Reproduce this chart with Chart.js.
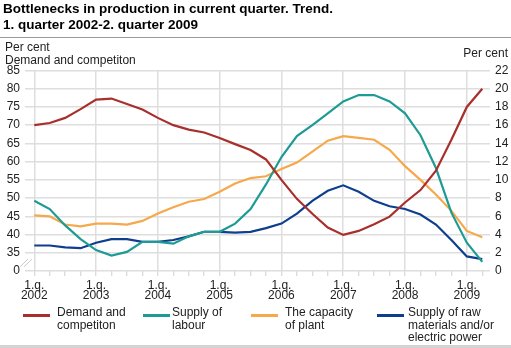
<!DOCTYPE html>
<html><head><meta charset="utf-8">
<script src="https://cdn.jsdelivr.net/npm/chart.js@4.4.1/dist/chart.umd.min.js"></script>
<style>
html,body{margin:0;padding:0;background:#fff;}
body{width:511px;height:348px;position:relative;overflow:hidden;font-family:"Liberation Sans",Arial,sans-serif;color:#222;}
canvas{position:absolute;left:0;top:0;}
.t{position:absolute;white-space:nowrap;}
#title{left:3px;top:1px;font-weight:bold;font-size:13.5px;line-height:15.5px;color:#000;}
#rule{position:absolute;left:0;top:37px;width:511px;height:1px;background:#9a9a9a;}
#band{position:absolute;left:0;top:345px;width:511px;height:3px;background:#d4d4d4;}
.unit{font-size:12px;line-height:13px;color:#222;}
.leg{position:absolute;font-size:12px;line-height:12.5px;top:306px;color:#222;white-space:nowrap;}
.sw{position:absolute;height:3px;top:313.5px;width:27px;}
</style></head>
<body>
<canvas id="c" width="511" height="348"></canvas>
<div id="title" class="t">Bottlenecks in production in current quarter. Trend.<br>1. quarter 2002-2. quarter 2009</div>
<div id="rule"></div>
<div class="t unit" style="left:5px;top:41px;">Per cent<br>Demand and competiton</div>
<div class="t unit" style="right:3px;top:47px;">Per cent</div>
<div id="legend"></div>
<div id="band"></div>
<script>
const quarters = [
 '1.q. 2002','2.q. 2002','3.q. 2002','4.q. 2002',
 '1.q. 2003','2.q. 2003','3.q. 2003','4.q. 2003',
 '1.q. 2004','2.q. 2004','3.q. 2004','4.q. 2004',
 '1.q. 2005','2.q. 2005','3.q. 2005','4.q. 2005',
 '1.q. 2006','2.q. 2006','3.q. 2006','4.q. 2006',
 '1.q. 2007','2.q. 2007','3.q. 2007','4.q. 2007',
 '1.q. 2008','2.q. 2008','3.q. 2008','4.q. 2008',
 '1.q. 2009','2.q. 2009'];
const seriesNames = [['Demand and','competiton'],['Supply of','labour'],['The capacity','of plant'],['Supply of raw','materials and/or','electric power']];
// left axis (per cent)
const demand = [70.0,70.6,72.0,74.4, 77.0,77.3,75.8,74.3, 72.0,70.0,68.8,68.0, 66.5,64.8,63.2,60.6, 55.0,49.8,45.7,41.9, 39.9,41.0,42.8,44.9, 48.8,52.2,57.5,66.0, 75.0,80.0];
// right axis (per cent)
const labour = [7.7,6.8,5.0,3.5, 2.3,1.7,2.1,3.2, 3.2,3.0,3.8,4.3, 4.3,5.2,6.8,9.5, 12.5,14.8,16.0,17.3, 18.6,19.3,19.3,18.6, 17.3,14.9,11.3,6.4, 3.1,1.0];
const plant = [6.1,6.0,5.1,4.9, 5.2,5.2,5.1,5.5, 6.3,7.0,7.6,7.9, 8.7,9.6,10.2,10.4, 11.2,11.9,13.1,14.3, 14.8,14.6,14.4,13.3, 11.5,10.0,8.4,6.6, 4.4,3.7];
const raw = [2.8,2.8,2.6,2.5, 3.1,3.5,3.5,3.2, 3.2,3.4,3.8,4.3, 4.3,4.2,4.3,4.7, 5.2,6.3,7.7,8.8, 9.4,8.7,7.7,7.1, 6.8,6.2,5.1,3.4, 1.6,1.3];
const leftTicks = [30,35,40,45,50,55,60,65,70,75,80,85];
const leftTickLabels = ['0','35','40','45','50','55','60','65','70','75','80','85'];
const rightTicks = [0,2,4,6,8,10,12,14,16,18,20,22];

const colors = ['#a8302c','#1e9b94','#f6a84b','#0e3f8e'];
const pts = arr => arr.map((v,i)=>({x:i,y:v}));

const breakMarks = {
  id:'breakMarks',
  afterDraw(chart){
    const ctx = chart.ctx, ys = chart.scales.y;
    const ym = (ys.getPixelForValue(0)+ys.getPixelForValue(2))/2;
    ctx.save();
    ctx.strokeStyle = '#c8c8c8'; ctx.lineWidth = 1;
    [20,24].forEach(x0=>{
      ctx.beginPath(); ctx.moveTo(x0, ym+5); ctx.lineTo(x0+8, ym-3); ctx.stroke();
    });
    ctx.restore();
  }
};

const gridCol = '#dedede';
new Chart(document.getElementById('c'), {
  type:'line',
  data:{datasets:[
    {label:seriesNames[0].join(' '), data:pts(demand), yAxisID:'yL', borderColor:colors[0]},
    {label:seriesNames[1].join(' '), data:pts(labour), yAxisID:'y', borderColor:colors[1]},
    {label:seriesNames[2].join(' '), data:pts(plant), yAxisID:'y', borderColor:colors[2]},
    {label:seriesNames[3].join(' '), data:pts(raw), yAxisID:'y', borderColor:colors[3]}
  ]},
  options:{
    responsive:false, animation:false,
    layout:{padding:{top:70.5,left:0,right:0,bottom:0}},
    elements:{line:{borderWidth:2.2, tension:0, fill:false}, point:{radius:0}},
    plugins:{legend:{display:false}, tooltip:{enabled:false}},
    scales:{
      x:{type:'linear', min:-0.6, max:29.5,
        afterBuildTicks:s=>{ s.ticks = quarters.map((q,i)=>({value:i})); },
        afterFit:s=>{ s.height = 77; },
        border:{display:false},
        grid:{color:c=> (c.index%4===0)?gridCol:'rgba(0,0,0,0)', lineWidth:1.5, tickLength:5, tickColor:'#cfcfcf', tickWidth:1},
        ticks:{autoSkip:false, maxRotation:0, padding:4, color:'#222', font:{family:'Liberation Sans', size:12, lineHeight:0.88},
          callback:(v,i)=> (i%4===0) ? quarters[i].split(' ') : ''}
      },
      y:{position:'right', min:0, max:22,
        afterBuildTicks:s=>{ s.ticks = rightTicks.map(v=>({value:v})); },
        afterFit:s=>{ s.width = 21; },
        border:{display:false},
        grid:{color:gridCol, lineWidth:1.5, drawTicks:false},
        ticks:{padding:5, color:'#222', font:{family:'Liberation Sans', size:12}}
      },
      yL:{position:'left', min:30, max:85,
        afterBuildTicks:s=>{ s.ticks = leftTicks.map(v=>({value:v})); },
        afterFit:s=>{ s.width = 25; },
        border:{display:false},
        grid:{display:false, drawTicks:false},
        ticks:{padding:5, color:'#222', font:{family:'Liberation Sans', size:12},
          callback:(v)=> leftTickLabels[leftTicks.indexOf(v)]}
      }
    }
  },
  plugins:[breakMarks]
});

// legend (HTML text)
const legX = [[23,57],[143,172],[251,285],[377,408]];
const lg = document.getElementById('legend');
seriesNames.forEach((n,i)=>{
  const sw = document.createElement('div'); sw.className='sw';
  sw.style.left = legX[i][0]+'px'; sw.style.background = colors[i]; lg.appendChild(sw);
  const tx = document.createElement('div'); tx.className='leg';
  tx.style.left = legX[i][1]+'px'; tx.innerHTML = n.join('<br>'); lg.appendChild(tx);
});
</script>
</body></html>
